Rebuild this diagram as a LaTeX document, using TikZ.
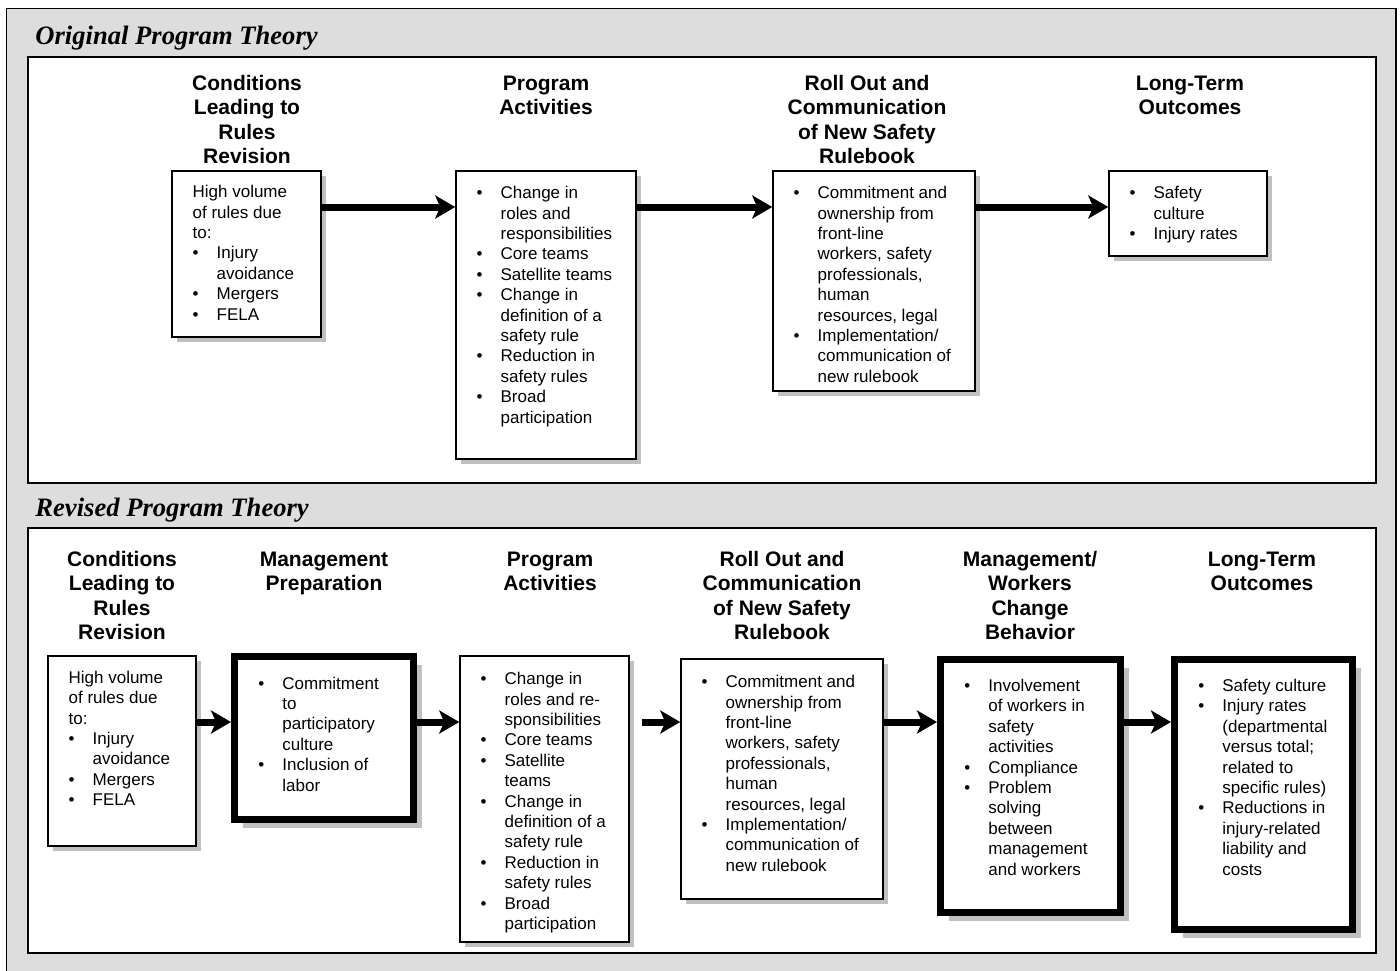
\documentclass[tikz,border=0pt]{standalone}
\usepackage{fontspec}
\setmainfont{Liberation Sans}
\newfontfamily\ttlserif{Liberation Serif}
\usetikzlibrary{arrows.meta,shadows,calc}
\definecolor{bggray}{RGB}{221,221,221}
\definecolor{shgray}{RGB}{192,192,192}
\newcommand{\bodyfnt}{\fontsize{8.5}{10.2}\selectfont}
\newcommand{\hdrfnt}{\fontsize{10.5}{12.25}\selectfont\bfseries}
\newcommand{\ttlfnt}{\ttlserif\fontsize{13.3}{16}\selectfont\bfseries\itshape}
\newcommand{\bu}{\makebox[12pt][l]{\textbullet}}
\newcommand{\nb}{\hspace*{12pt}}
\newcommand{\txtlines}[1]{\begin{tabular}[t]{@{}l@{}}#1\end{tabular}}
\newcommand{\hdrlines}[1]{\begin{tabular}[t]{@{}c@{}}#1\end{tabular}}
\begin{document}
\begin{tikzpicture}[x=0.5pt,y=-0.5pt,
  thinbox/.style={draw, line width=0.75pt, fill=white, inner sep=0pt,
    drop shadow={shadow xshift=2.5pt, shadow yshift=-2.5pt, fill=shgray, opacity=1}},
  thickbox/.style={draw, line width=3.5pt, fill=white, inner sep=0pt,
    drop shadow={shadow xshift=4.25pt, shadow yshift=-4pt, fill=shgray, opacity=1}},
  body/.style={inner sep=0pt, anchor=base west, font=\bodyfnt},
  hdr/.style={inner sep=0pt, anchor=base, font=\hdrfnt},
  ttl/.style={inner sep=0pt, anchor=base west, font=\ttlfnt},
  frame/.style={draw, line width=1pt, fill=white},
  arr/.style={line width=3.5pt, -{Stealth[length=10pt,width=11.5pt,inset=2.5pt]}}]

\useasboundingbox (0,0) rectangle (1400,970);
\clip (0,0) rectangle (1400,970);
\draw[fill=bggray, line width=0.65pt] (6.5,8.5) rectangle (1396,990);
\draw[frame] (28,56.5) rectangle (1376,483);
\draw[frame] (28,527.5) rectangle (1376,953);

\node[ttl] (t1) at (35,44) {Original Program Theory};
\node[ttl] (t2) at (35,516) {Revised Program Theory};

\coordinate (toprow) at (0,207);
\coordinate (botrow) at (0,722);

% ---------- Original ----------
\node[hdr] (h1) at (247,90) {\hdrlines{Conditions\\Leading to\\Rules\\Revision}};
\node[hdr] (h2) at (546,90) {\hdrlines{Program\\Activities}};
\node[hdr] (h3) at (867,90) {\hdrlines{Roll Out and\\Communication\\of New Safety\\Rulebook}};
\node[hdr] (h4) at (1190,90) {\hdrlines{Long-Term\\Outcomes}};

\node[thinbox, minimum width=74.5pt, minimum height=83pt] (b1) at (246.5,254) {};
\node[thinbox, minimum width=90pt, minimum height=144pt] (b2) at (546,315) {};
\node[thinbox, minimum width=101pt, minimum height=110pt] (b3) at (874,281) {};
\node[thinbox, minimum width=79pt, minimum height=42.5pt] (b4) at (1188,213.5) {};

\node[body] (tb1) at ([shift={(21,27.5)}]b1.north west) {\txtlines{High volume\\of rules due\\to:\\\bu Injury\\\nb avoidance\\\bu Mergers\\\bu FELA}};
\node[body] (tb2) at ([shift={(21,28.5)}]b2.north west) {\txtlines{\bu Change in\\\nb roles and\\\nb responsibilities\\\bu Core teams\\\bu Satellite teams\\\bu Change in\\\nb definition of a\\\nb safety rule\\\bu Reduction in\\\nb safety rules\\\bu Broad\\\nb participation}};
\node[body] (tb3) at ([shift={(21,28.5)}]b3.north west) {\txtlines{\bu Commitment and\\\nb ownership from\\\nb front-line\\\nb workers, safety\\\nb professionals,\\\nb human\\\nb resources, legal\\\bu Implementation/\\\nb communication of\\\nb new rulebook}};
\node[body] (tb4) at ([shift={(21,28.5)}]b4.north west) {\txtlines{\bu Safety\\\nb culture\\\bu Injury rates}};

\draw[arr] (b1.east |- toprow) -- (b2.west |- toprow);
\draw[arr] (b2.east |- toprow) -- (b3.west |- toprow);
\draw[arr] (b3.east |- toprow) -- (b4.west |- toprow);

% ---------- Revised ----------
\node[hdr] (g1) at (122,566) {\hdrlines{Conditions\\Leading to\\Rules\\Revision}};
\node[hdr] (g2) at (324,566) {\hdrlines{Management\\Preparation}};
\node[hdr] (g3) at (550,566) {\hdrlines{Program\\Activities}};
\node[hdr] (g4) at (782,566) {\hdrlines{Roll Out and\\Communication\\of New Safety\\Rulebook}};
\node[hdr] (g5) at (1030,566) {\hdrlines{Management/\\Workers\\Change\\Behavior}};
\node[hdr] (g6) at (1262,566) {\hdrlines{Long-Term\\Outcomes}};

\node[thinbox, minimum width=74pt, minimum height=95pt] (c1) at (122,751) {};
\node[thickbox, minimum width=89.5pt, minimum height=81.5pt] (c2) at (324,738) {};
\node[thinbox, minimum width=84.5pt, minimum height=143pt] (c3) at (544.5,799) {};
\node[thinbox, minimum width=101pt, minimum height=120pt] (c4) at (782,779) {};
\node[thickbox, minimum width=90pt, minimum height=126.5pt] (c5) at (1030.5,786) {};
\node[thickbox, minimum width=89pt, minimum height=135pt] (c6) at (1263.5,794.5) {};

\node[body] (tc1) at ([shift={(21,28)}]c1.north west) {\txtlines{High volume\\of rules due\\to:\\\bu Injury\\\nb avoidance\\\bu Mergers\\\bu FELA}};
\node[body] (tc2) at ([shift={(27,36)}]c2.north west) {\txtlines{\bu Commitment\\\nb to\\\nb participatory\\\nb culture\\\bu Inclusion of\\\nb labor}};
\node[body] (tc3) at ([shift={(21,29.5)}]c3.north west) {\txtlines{\bu Change in\\\nb roles and re-\\\nb sponsibilities\\\bu Core teams\\\bu Satellite\\\nb teams\\\bu Change in\\\nb definition of a\\\nb safety rule\\\bu Reduction in\\\nb safety rules\\\bu Broad\\\nb participation}};
\node[body] (tc4) at ([shift={(21,29.5)}]c4.north west) {\txtlines{\bu Commitment and\\\nb ownership from\\\nb front-line\\\nb workers, safety\\\nb professionals,\\\nb human\\\nb resources, legal\\\bu Implementation/\\\nb communication of\\\nb new rulebook}};
\node[body] (tc5) at ([shift={(27,35.5)}]c5.north west) {\txtlines{\bu Involvement\\\nb of workers in\\\nb safety\\\nb activities\\\bu Compliance\\\bu Problem\\\nb solving\\\nb between\\\nb management\\\nb and workers}};
\node[body] (tc6) at ([shift={(27,35.5)}]c6.north west) {\txtlines{\bu Safety culture\\\bu Injury rates\\\nb (departmental\\\nb versus total;\\\nb related to\\\nb specific rules)\\\bu Reductions in\\\nb injury-related\\\nb liability and\\\nb costs}};

\draw[arr] (c1.east |- botrow) -- (c2.west |- botrow);
\draw[arr] (c2.east |- botrow) -- (c3.west |- botrow);
\draw[arr] ($(c3.east |- botrow)+(12,0)$) -- (c4.west |- botrow);
\draw[arr] (c4.east |- botrow) -- (c5.west |- botrow);
\draw[arr] (c5.east |- botrow) -- (c6.west |- botrow);
\end{tikzpicture}
\end{document}
